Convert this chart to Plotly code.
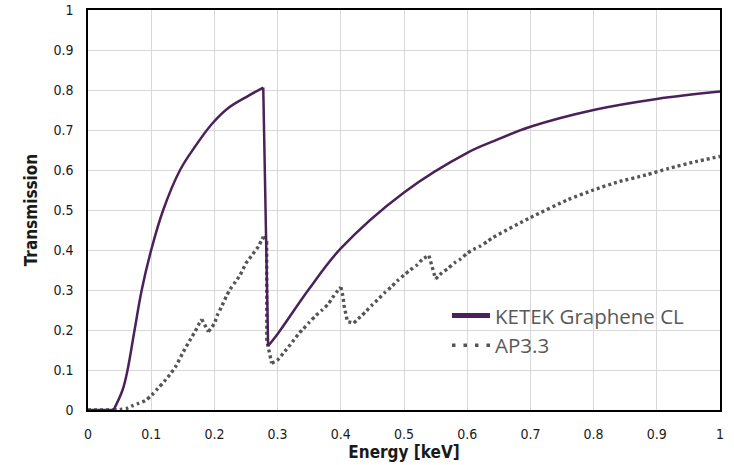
import plotly.graph_objects as go

# KETEK Graphene CL transmission
ketek_e = [0, 0.0405, 0.0547, 0.0626, 0.0737, 0.085, 0.1, 0.119, 0.1457, 0.17, 0.196, 0.222,
           0.251, 0.2773, 0.285, 0.3, 0.35, 0.4, 0.5, 0.6, 0.643, 0.7, 0.8, 0.9, 1.0]
ketek_t = [0, 0, 0.05, 0.1, 0.2, 0.3, 0.4, 0.5, 0.6, 0.66, 0.715, 0.755,
           0.783, 0.806, 0.16, 0.19, 0.303, 0.404, 0.544, 0.643, 0.673, 0.708, 0.75, 0.7775, 0.796]
# flat start and absorption edge (straight segments)
ketek_edges = [(0, 0.0405), (0.2773, 0.285)]

# AP3.3 transmission
ap_e = [0, 0.0405, 0.051, 0.0615, 0.0694, 0.08, 0.0905, 0.101, 0.1105, 0.1205, 0.131, 0.138,
        0.151, 0.1615, 0.1694, 0.1747, 0.18, 0.1853, 0.1905, 0.2, 0.2048, 0.2106, 0.2195,
        0.2248, 0.2316, 0.2406, 0.25, 0.2601, 0.2695, 0.2748, 0.2774, 0.2827, 0.2829, 0.2905,
        0.30, 0.309, 0.32, 0.334, 0.3405, 0.35, 0.3605, 0.3705, 0.38, 0.387, 0.393, 0.40,
        0.4036, 0.405, 0.4074, 0.4105, 0.4205, 0.431, 0.4405, 0.4494, 0.4605, 0.4694, 0.48,
        0.4895, 0.50, 0.51, 0.5205, 0.529, 0.5395, 0.543, 0.547, 0.55, 0.56, 0.5695, 0.58,
        0.5895, 0.60, 0.6105, 0.621, 0.6316, 0.6405, 0.70, 0.759, 0.7995, 0.8405, 0.8826,
        0.919, 0.9616, 1.0]
ap_t = [0, 0, 0.0017, 0.004, 0.01, 0.0167, 0.0233, 0.0375, 0.054, 0.071, 0.0917, 0.1067,
        0.146, 0.175, 0.196, 0.2125, 0.2267, 0.21, 0.196, 0.2167, 0.2375, 0.256, 0.286,
        0.3017, 0.3167, 0.3375, 0.3667, 0.3883, 0.4083, 0.425, 0.4333, 0.42, 0.175, 0.117,
        0.125, 0.142, 0.163, 0.192, 0.2025, 0.219, 0.236, 0.25, 0.265, 0.281, 0.294, 0.307,
        0.283, 0.2625, 0.239, 0.221, 0.2175, 0.233, 0.2475, 0.2625, 0.279, 0.293, 0.308,
        0.323, 0.3375, 0.35, 0.3625, 0.3767, 0.386, 0.367, 0.346, 0.3275, 0.343, 0.354, 0.368,
        0.3775, 0.392, 0.402, 0.41, 0.421, 0.431, 0.481, 0.5255, 0.55, 0.571, 0.5875,
        0.604, 0.621, 0.634]
ap_edges = [(0, 0.0405), (0.18, 0.1905), (0.2774, 0.2905), (0.40, 0.4205), (0.5395, 0.55)]

x_ticks = [0, 0.1, 0.2, 0.3, 0.4, 0.5, 0.6, 0.7, 0.8, 0.9, 1]
x_labels = ["0", "0.1", "0.2", "0.3", "0.4", "0.5", "0.6", "0.7", "0.8", "0.9", "1"]
y_ticks = [0, 0.1, 0.2, 0.3, 0.4, 0.5, 0.6, 0.7, 0.8, 0.9, 1]
y_labels = ["0", "0.1", "0.2", "0.3", "0.4", "0.5", "0.6", "0.7", "0.8", "0.9", "1"]

PURPLE = "#4a2159"
GRAY = "#555555"
TICKFONT = "DejaVu Sans Condensed, Liberation Sans Narrow, Roboto, sans-serif"

fig = go.Figure()


def add_series(xs, ys, edges, line, smoothing):
    """Draw a series: smooth between edges, straight across the listed edges."""
    cuts = [(xs.index(a), xs.index(b)) for a, b in edges]
    start = 0
    pieces = []
    for i, j in cuts:
        if i > start:
            pieces.append((start, i, "spline"))
        pieces.append((i, j, "linear"))
        start = j
    pieces.append((start, len(xs) - 1, "spline"))
    for s, e, shape in pieces:
        fig.add_trace(go.Scatter(x=xs[s:e + 1], y=ys[s:e + 1], mode="lines",
                                 showlegend=False, hoverinfo="skip",
                                 line=dict(line, shape=shape, smoothing=smoothing)))


add_series(ap_e, ap_t, ap_edges, dict(color=GRAY, width=3.4, dash="3px,3px"), 0.6)
add_series(ketek_e, ketek_t, ketek_edges, dict(color=PURPLE, width=2.5), 1.0)

# legend entries
fig.add_trace(go.Scatter(x=[None], y=[None], mode="lines", name="KETEK Graphene CL",
                         legendgroup="a", line=dict(color=PURPLE, width=5)))
fig.add_trace(go.Scatter(x=[None], y=[None], mode="lines", name="AP3.3",
                         legendgroup="b", line=dict(color=GRAY, width=3.5, dash="3.5px,8px")))

# white legend background box covering gridlines
fig.add_shape(type="rect", xref="paper", yref="paper", x0=0.530, x1=0.998, y0=0.10, y1=0.295,
              fillcolor="white", line=dict(width=0), layer="between")

fig.update_layout(
    width=734, height=465,
    margin=dict(l=88, r=14, t=10, b=55),
    paper_bgcolor="white", plot_bgcolor="white",
    legend=dict(x=0.568, y=0.2855, xanchor="left", yanchor="top",
                bgcolor="rgba(0,0,0,0)", font=dict(family="Open Sans, sans-serif", size=20.5, color="#595959"),
                itemwidth=38, tracegroupgap=0, traceorder="grouped"),
    xaxis=dict(range=[0, 1], tickvals=x_ticks, ticktext=x_labels, showgrid=True,
               gridcolor="#d9d9d9", gridwidth=1.3, zeroline=False, showline=True,
               linecolor="black", linewidth=1.5, mirror=True, ticks="",
               ticklabelstandoff=10, automargin=False,
               tickfont=dict(family=TICKFONT, size=14, color="#1a1a1a"),
               title=dict(text="<b>Energy [keV]</b>", standoff=6,
                          font=dict(family=TICKFONT, size=17, color="#1a1a1a"))),
    yaxis=dict(range=[0, 1], tickvals=y_ticks, ticktext=y_labels, showgrid=True,
               gridcolor="#d9d9d9", gridwidth=1.3, zeroline=False, showline=True,
               linecolor="black", linewidth=1.5, mirror=True, ticks="",
               ticklabelstandoff=10, automargin=False,
               tickfont=dict(family=TICKFONT, size=14, color="#1a1a1a"),
               title=dict(text="<b>Transmission</b>", standoff=11,
                          font=dict(family=TICKFONT, size=17, color="#1a1a1a"))),
)

fig.write_html("out.html", config={"displayModeBar": False},
               post_script="document.body.style.margin='0';")
